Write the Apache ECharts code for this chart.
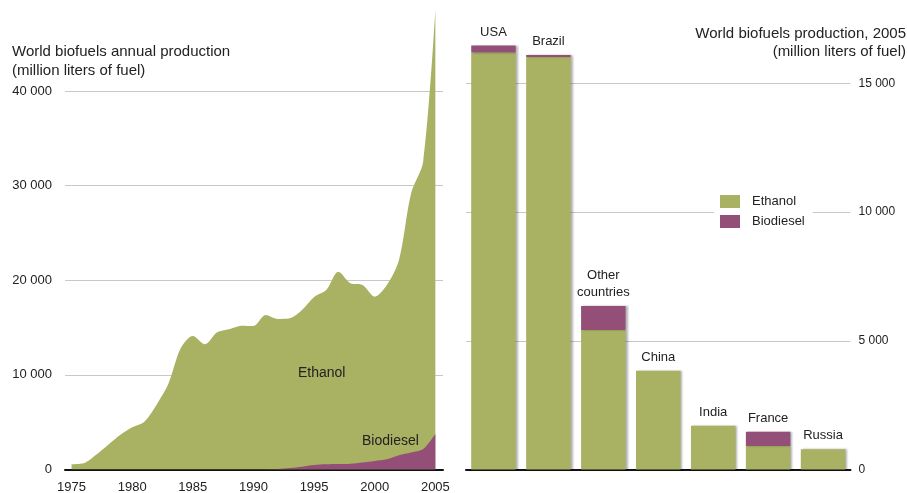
<!DOCTYPE html>
<html>
<head>
<meta charset="utf-8">
<script src="https://cdn.jsdelivr.net/npm/echarts@6/dist/echarts.min.js"></script>
<style>
html,body{margin:0;padding:0;background:#fff;}
#c{width:907px;height:493px;}
</style>
</head>
<body>
<div id="c"></div>
<script>
// ---- Data: left chart (annual production, million liters) ----
const years = [1975,1976,1977,1978,1979,1980,1981,1982,1983,1984,1985,1986,1987,1988,1989,1990,
               1991,1992,1993,1994,1995,1996,1997,1998,1999,2000,2001,2002,2003,2004,2005];
const ethanolAnnual = [550,655,1530,2590,3650,4460,5050,6820,9110,12810,14110,13230,14500,14820,15200,15170,
                       16320,15860,15830,16560,17760,18420,20330,19060,18760,17370,18420,20650,27410,30380,44820];
const biodieselAnnual = [0,0,0,0,0,0,0,0,0,0,0,0,0,0,0,0,
                         10,50,150,300,480,550,580,620,740,900,1080,1500,1790,2160,3750];
const yearTicks = [1975,1980,1985,1990,1995,2000,2005];

// ---- Data: right chart (2005 production by country) ----
const countries = ['USA','Brazil','Other countries','China','India','France','Russia'];
const ethanol2005 = [16200,16030,5420,3840,1700,910,785];
const biodiesel2005 = [270,70,930,0,0,560,0];

const GREEN = '#a8b262';
const PURPLE = '#934f77';
const TXT = '#222';
const FONT = 'Liberation Sans, Arial, Helvetica, sans-serif';

function fmt(v){ return String(v).replace(/\B(?=(\d{3})+(?!\d))/g,' '); }

// stacked top of the annual areas (ethanol drawn on top of biodiesel)
const totalAnnual = years.map((y,i)=>[y, ethanolAnnual[i] + biodieselAnnual[i]]);

const chart = echarts.init(document.getElementById('c'), null, {renderer:'canvas'});

const option = {
  animation:false,
  backgroundColor:'#fff',
  textStyle:{fontFamily:FONT},
  grid:[
    {left:65, right:464, top:-3.6, bottom:23.5, outerBoundsMode:'none', containLabel:false},
    {left:466, right:56.5, top:-45.3, bottom:23.5, outerBoundsMode:'none', containLabel:false}
  ],
  xAxis:[
    {type:'value', gridIndex:0, min:1974.46, max:2005.63,
     axisLine:{show:true, onZero:false, lineStyle:{color:'#111', width:2}},
     axisTick:{show:false}, splitLine:{show:false},
     axisLabel:{customValues:yearTicks, color:TXT, fontSize:13, margin:11, fontFamily:FONT, formatter:v=>String(v)}},
    {type:'category', gridIndex:1, data:countries, boundaryGap:true,
     axisLine:{show:true, lineStyle:{color:'#111', width:2}},
     axisTick:{show:false}, axisLabel:{show:false}}
  ],
  yAxis:[
    {type:'value', gridIndex:0, min:0, max:50000, interval:10000,
     axisLine:{show:false}, axisTick:{show:false},
     splitLine:{lineStyle:{color:'#c8c8c8', width:1}},
     axisLabel:{color:TXT, fontSize:13, margin:13, fontFamily:FONT, formatter:fmt}},
    {type:'value', gridIndex:1, position:'right', min:0, max:20000, interval:5000,
     axisLine:{show:false}, axisTick:{show:false},
     splitLine:{lineStyle:{color:'#c8c8c8', width:1}},
     axisLabel:{color:TXT, fontSize:12, margin:8, align:'left', fontFamily:FONT, formatter:fmt}}
  ],
  legend:{
    orient:'vertical', left:714, top:190, icon:'rect', itemWidth:20, itemHeight:13, itemGap:7,
    padding:[5,8,5,6], backgroundColor:'#fff',
    textStyle:{color:TXT, fontSize:13, fontFamily:FONT, padding:[0,0,0,7]},
    data:['Ethanol','Biodiesel']
  },
  series:[
    {name:'Ethanol', type:'line', xAxisIndex:0, yAxisIndex:0, smooth:0.3,
     showSymbol:false, lineStyle:{width:0}, itemStyle:{color:GREEN},
     areaStyle:{color:GREEN, opacity:1}, z:2,
     data:totalAnnual},
    {name:'Biodiesel', type:'line', xAxisIndex:0, yAxisIndex:0, smooth:0.3,
     showSymbol:false, lineStyle:{width:0}, itemStyle:{color:PURPLE},
     areaStyle:{color:PURPLE, opacity:1}, z:3,
     data:years.map((y,i)=>[y,biodieselAnnual[i]])},
    {name:'Ethanol', type:'bar', xAxisIndex:1, yAxisIndex:1, stack:'b', barCategoryGap:'19%',
     itemStyle:{color:GREEN, shadowColor:'rgba(0,0,0,0.3)', shadowOffsetX:2, shadowBlur:2},
     data:ethanol2005},
    {name:'Biodiesel', type:'bar', xAxisIndex:1, yAxisIndex:1, stack:'b', barCategoryGap:'19%',
     itemStyle:{color:PURPLE, shadowColor:'rgba(0,0,0,0.3)', shadowOffsetX:2, shadowBlur:2},
     label:{show:true, position:'top', distance:5, color:TXT, fontSize:13, lineHeight:17, fontFamily:FONT,
            formatter:p=>p.name.replace(' countries','\ncountries')},
     data:biodiesel2005}
  ],
  graphic:[
    {type:'text', z:100, left:12, top:42, style:{text:'World biofuels annual production\n(million liters of fuel)',
      fill:TXT, font:'15px '+FONT, lineHeight:19}},
    {type:'text', z:100, right:1, top:26, style:{text:'World biofuels production, 2005',
      fill:TXT, font:'15px '+FONT}},
    {type:'text', z:100, right:1, top:44, style:{text:'(million liters of fuel)',
      fill:TXT, font:'15px '+FONT}},
    {type:'text', z:100, left:298, top:366, style:{text:'Ethanol', fill:TXT, font:'14px '+FONT}},
    {type:'text', z:100, left:362, top:434, style:{text:'Biodiesel', fill:TXT, font:'14px '+FONT}}
  ]
};
chart.setOption(option);
</script>
</body>
</html>
